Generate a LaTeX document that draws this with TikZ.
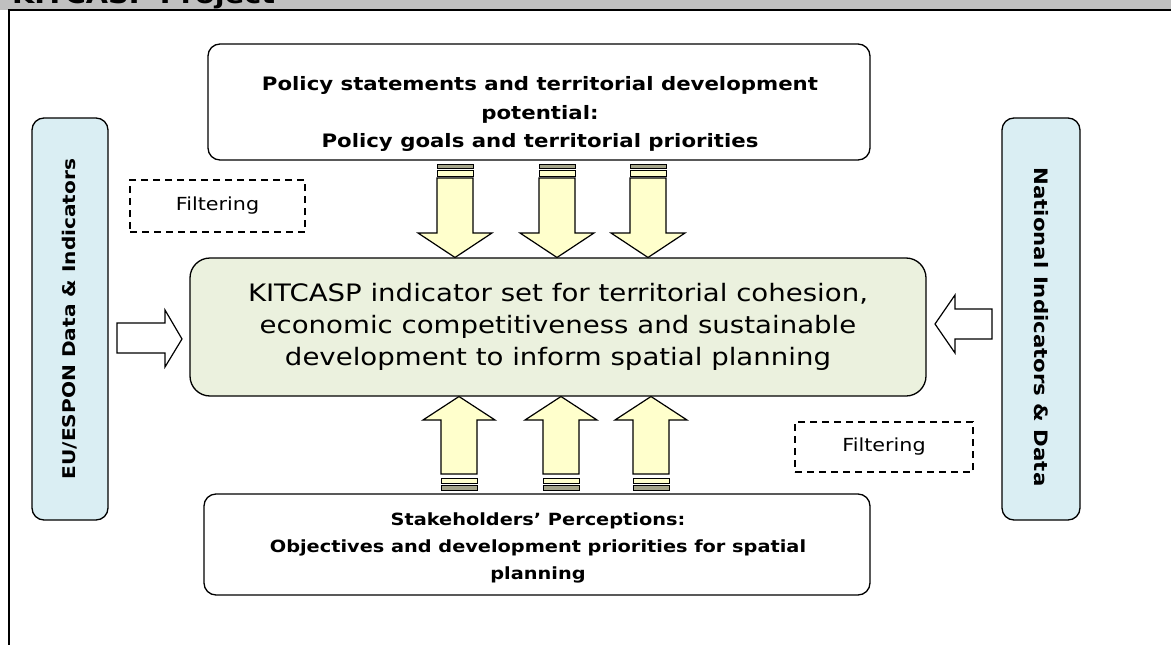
\documentclass[tikz,border=0pt]{standalone}
\usepackage{fontspec}
\setmainfont[FakeStretch=1.15]{DejaVu Sans}
\definecolor{hdrgray}{HTML}{C0C0C0}
\definecolor{sideblue}{HTML}{DAEEF3}
\definecolor{centergreen}{HTML}{EBF1DE}
\definecolor{arrowyellow}{HTML}{FFFFCC}
\definecolor{stripegray}{HTML}{A5A58A}
\tikzset{
  roundbox/.style={draw=black, line width=1.3pt, rounded corners=12pt, align=center, inner sep=0pt},
  sidebox/.style={roundbox, fill=sideblue},
  boxtext/.style={align=center, inner sep=0pt},
  filterbox/.style={draw=black, line width=1.8pt, dash pattern=on 7pt off 5pt, inner sep=0pt},
  blockarrow/.style={draw=black, line width=1.2pt, fill=arrowyellow, line join=miter},
  hollowarrow/.style={draw=black, line width=1.2pt, fill=white, line join=miter},
  stripe/.style={draw=black, line width=1pt},
}
\begin{document}
\begin{tikzpicture}[x=1pt,y=-1pt]
\useasboundingbox (0,0) rectangle (1171,645);
% header band
\begin{scope}
  \clip (0,0) rectangle (1171,10);
  \fill[hdrgray] (0,0) rectangle (1171,10);
  \node[anchor=base west, inner sep=0pt, font=\bfseries\fontsize{25}{30}\selectfont] (hdr) at (12,4) {KITCASP Project};
\end{scope}
\draw[line width=2pt] (8,10) -- (1171,10);
\draw[line width=2pt] (8.5,10) -- (8.5,645);

% main boxes
\node[roundbox, minimum width=662pt, minimum height=116pt] (policy) at (539,102) {};
\node[boxtext, font=\bfseries\fontsize{18.5}{28.5}\selectfont] (policytext) at (540,114)
  {Policy statements and territorial development\\potential:\\Policy goals and territorial priorities};
\node[roundbox, minimum width=666pt, minimum height=101pt] (stake) at (537,544.5) {};
\node[boxtext, font=\bfseries\fontsize{16.8}{27}\selectfont] (staketext) at (538,548)
  {Stakeholders’ Perceptions:\\Objectives and development priorities for spatial\\planning};
\node[roundbox, rounded corners=20pt, fill=centergreen, minimum width=736pt, minimum height=138pt, font=\fontsize{24}{32}\selectfont] (kit) at (558,327)
  {KITCASP indicator set for territorial cohesion,\\economic competitiveness and sustainable\\development to inform spatial planning};
\node[sidebox, minimum width=76pt, minimum height=402pt] (eu) at (70,319) {};
\node[rotate=90, font=\bfseries\fontsize{17.5}{20}\selectfont] (eutext) at (eu.center) {EU/ESPON Data \& Indicators};
\node[sidebox, minimum width=78pt, minimum height=402pt] (nat) at (1041,319) {};
\node[rotate=-90, font=\bfseries\fontsize{18.5}{20}\selectfont] (nattext) at (1041,327) {National Indicators \& Data};

\node[filterbox, minimum width=175pt, minimum height=52pt, font=\fontsize{18}{18}\selectfont] (filt1) at (217.5,206) {Filtering};
\node[filterbox, minimum width=178pt, minimum height=50pt, font=\fontsize{18}{18}\selectfont] (filt2) at (884,447) {Filtering};

% down arrows from policy box
\foreach \c in {455,557,648} {
  \draw[stripe, fill=stripegray] (\c-18,164) rectangle (\c+18,168.5);
  \draw[stripe, fill=arrowyellow] (\c-18,170.5) rectangle (\c+18,176);
  \draw[blockarrow] (\c-18,178) -- (\c+18,178) -- (\c+18,233) -- (\c+37,233) -- (\c,257.5) -- (\c-37,233) -- (\c-18,233) -- cycle;
}
% up arrows from stakeholder box
\foreach \c in {459,561,651} {
  \draw[stripe, fill=stripegray] (\c-18,485.5) rectangle (\c+18,490);
  \draw[stripe, fill=arrowyellow] (\c-18,478) rectangle (\c+18,483.5);
  \draw[blockarrow] (\c-18,474) -- (\c+18,474) -- (\c+18,420) -- (\c+36,420) -- (\c,396.5) -- (\c-36,420) -- (\c-18,420) -- cycle;
}
% side hollow arrows
\draw[hollowarrow] (117,323) -- (165,323) -- (165,310) -- (182,339) -- (165,367) -- (165,353) -- (117,353) -- cycle;
\draw[hollowarrow] (992,309) -- (955,309) -- (955,295) -- (935,324) -- (955,353) -- (955,339) -- (992,339) -- cycle;
\end{tikzpicture}
\end{document}
